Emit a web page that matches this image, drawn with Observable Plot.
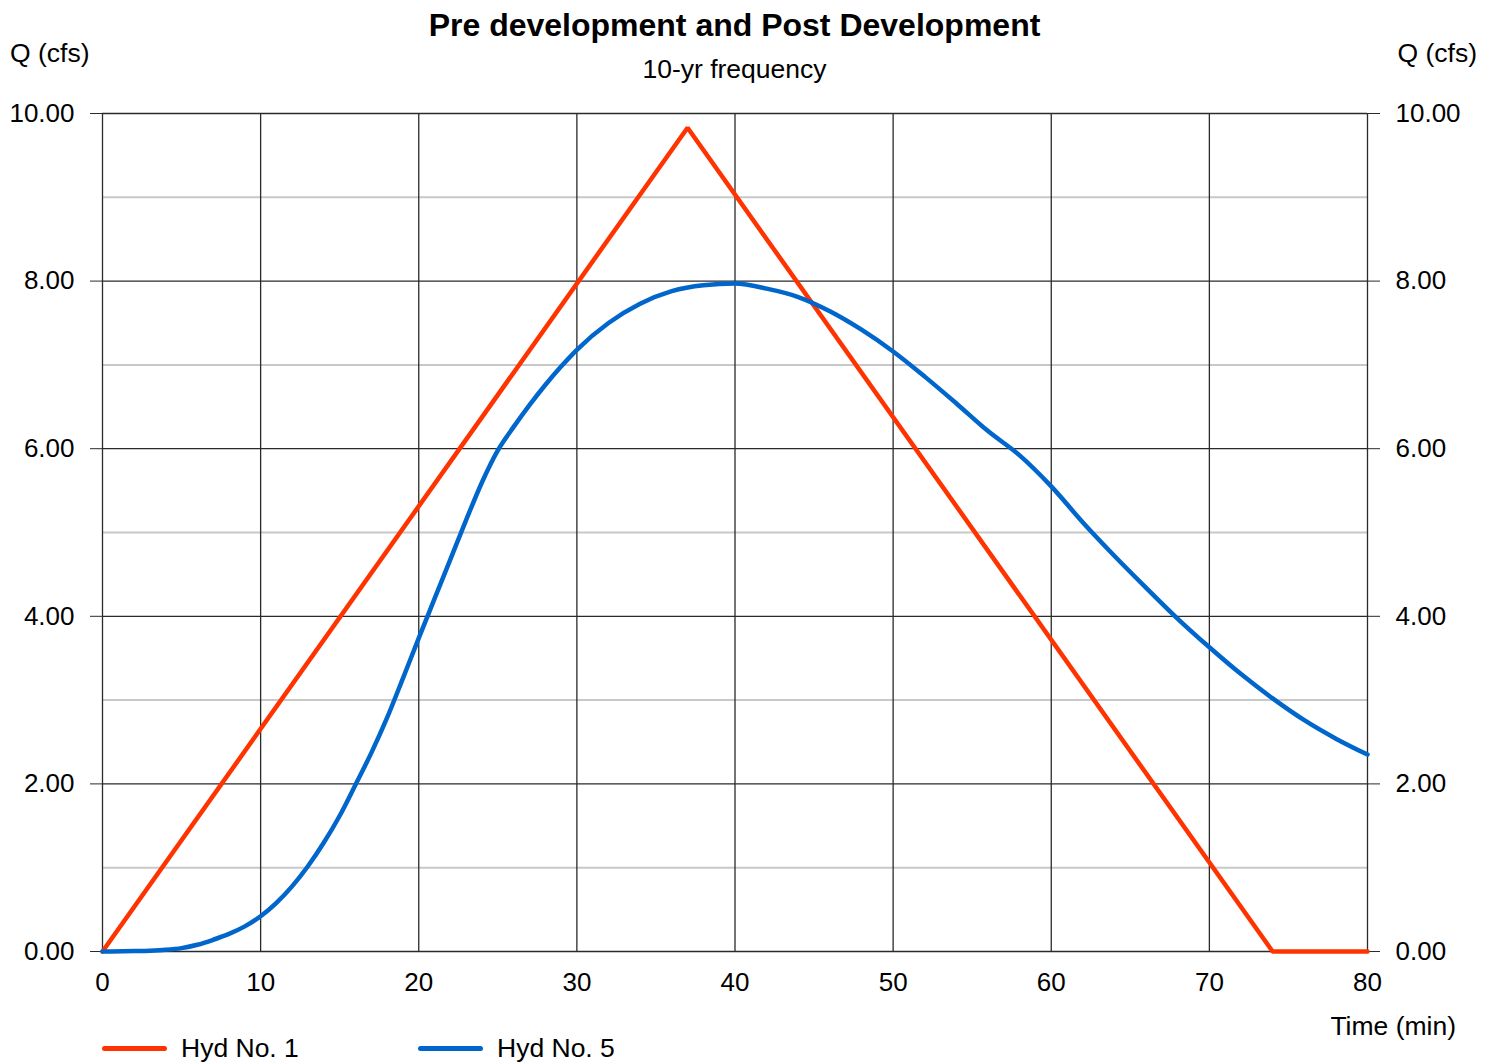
<!DOCTYPE html>
<html>
<head>
<meta charset="utf-8">
<script src="https://cdn.jsdelivr.net/npm/d3@7"></script>
<script src="https://cdn.jsdelivr.net/npm/@observablehq/plot@0.6"></script>
<style>
  html, body { margin: 0; padding: 0; background: #fff; }
  #wrap { position: relative; width: 1496px; height: 1064px; font-family: "Liberation Sans", Arial, sans-serif; color: #000; }
  #wrap svg { position: absolute; left: 0; top: 0; }
  .t { position: absolute; white-space: nowrap; line-height: 1; }
  .sw { position: absolute; height: 5px; border-radius: 3px; }
</style>
</head>
<body>
<div id="wrap"></div>
<script>
// Hyd No. 1 (pre development) - triangular hydrograph
const hyd1Time = [0, 37, 74, 80];
const hyd1Q    = [0, 9.83, 0, 0];

// Hyd No. 5 (post development)
const hyd5Time = [0, 2, 3, 4, 5, 6, 7, 8, 9, 10, 11, 12, 13, 14, 15, 16, 17, 18, 19, 20, 21, 22, 23, 24, 25, 26, 27, 28, 29, 30, 32, 34, 36, 38, 40, 42, 44, 46, 48, 50, 52, 54, 56, 58, 60, 62, 64, 66, 68, 70, 72, 74, 76, 78, 80];
const hyd5Q    = [0, 0.005, 0.01, 0.02, 0.04, 0.08, 0.14, 0.21, 0.30, 0.42, 0.58, 0.78, 1.02, 1.30, 1.62, 1.99, 2.37, 2.79, 3.26, 3.74, 4.21, 4.68, 5.15, 5.60, 5.98, 6.26, 6.52, 6.76, 6.98, 7.18, 7.50, 7.73, 7.88, 7.95, 7.97, 7.91, 7.81, 7.64, 7.42, 7.16, 6.86, 6.54, 6.21, 5.92, 5.55, 5.12, 4.72, 4.34, 3.97, 3.63, 3.31, 3.02, 2.76, 2.54, 2.35];

const xTicks = [0, 10, 20, 30, 40, 50, 60, 70, 80];
const yMajorTicks = [0, 2, 4, 6, 8, 10];
const yMinorTicks = [1, 3, 5, 7, 9];

const seriesNames = ["Hyd No. 1", "Hyd No. 5"];
const seriesColors = ["#ff3300", "#0066cc"];

const hyd1 = hyd1Time.map((t, i) => ({t, q: hyd1Q[i]}));
const hyd5 = hyd5Time.map((t, i) => ({t, q: hyd5Q[i]}));

const fmt = d3.format(".2f");
const gridColor = "#2a2a2a";

const chart = Plot.plot({
  width: 1496,
  height: 1064,
  marginLeft: 102,
  marginRight: 129,
  marginTop: 113,
  marginBottom: 113,
  style: {fontFamily: "'Liberation Sans', Arial, sans-serif", fontSize: "26px", color: "#000", background: "transparent"},
  x: {domain: [0, 80]},
  y: {domain: [0, 10]},
  marks: [
    Plot.ruleY(yMinorTicks, {stroke: "#c8c8c8", strokeWidth: 2}),
    Plot.ruleY(yMajorTicks, {stroke: gridColor, strokeWidth: 1.3}),
    Plot.ruleX(xTicks, {stroke: gridColor, strokeWidth: 1.3}),
    Plot.axisY({anchor: "left", ticks: yMajorTicks, tickFormat: fmt, tickSize: 12, tickPadding: 16, label: null, stroke: gridColor}),
    Plot.axisY({anchor: "right", ticks: yMajorTicks, tickFormat: fmt, tickSize: 12, tickPadding: 16, label: null, stroke: gridColor}),
    Plot.axisX({anchor: "bottom", ticks: xTicks, tickSize: 0, tickPadding: 21, label: null}),
    Plot.line(hyd1, {x: "t", y: "q", stroke: seriesColors[0], strokeWidth: 4.5, strokeLinejoin: "miter"}),
    Plot.line(hyd5, {x: "t", y: "q", stroke: seriesColors[1], strokeWidth: 4.5, curve: "monotone-x"})
  ]
});

const wrap = document.getElementById("wrap");
wrap.appendChild(chart);

function addText(txt, css) {
  const d = document.createElement("div");
  d.className = "t";
  d.textContent = txt;
  Object.assign(d.style, css);
  wrap.appendChild(d);
  return d;
}
addText("Pre development and Post Development", {left: "0px", width: "1469px", textAlign: "center", top: "9px", fontSize: "32px", fontWeight: "bold"});
addText("10-yr frequency", {left: "0px", width: "1469px", textAlign: "center", top: "56px", fontSize: "26.5px"});
addText("Q (cfs)", {left: "10px", top: "40px", fontSize: "26.5px"});
addText("Q (cfs)", {right: "19px", top: "40px", fontSize: "26.5px"});
addText("Time (min)", {right: "40px", top: "1013px", fontSize: "26.5px"});

// legend
const legX = [102, 418];
seriesNames.forEach((name, i) => {
  const sw = document.createElement("div");
  sw.className = "sw";
  Object.assign(sw.style, {left: legX[i] + "px", top: "1046px", width: "65px", background: seriesColors[i]});
  wrap.appendChild(sw);
  addText(name, {left: (legX[i] + 79) + "px", top: "1035px", fontSize: "26.5px"});
});
</script>
</body>
</html>
